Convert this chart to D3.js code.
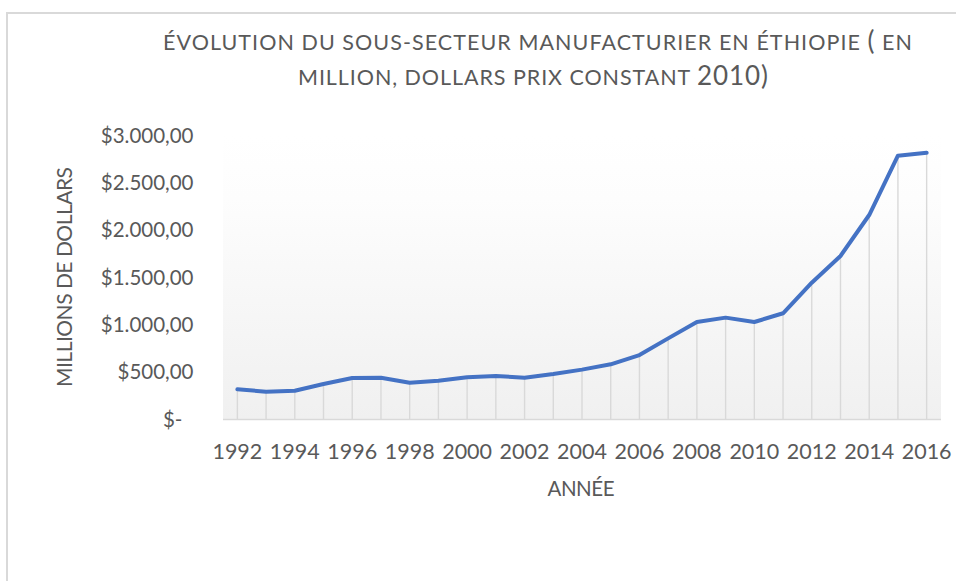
<!DOCTYPE html>
<html>
<head>
<meta charset="utf-8">
<script src="https://cdn.jsdelivr.net/npm/d3@7"></script>
<style>
  html, body { margin: 0; padding: 0; background: #ffffff; }
  svg { display: block; }
  text { font-family: Lato, "Open Sans", sans-serif; fill: #595959; }
</style>
</head>
<body>
<script>
// ---- data ----
const years = [1992, 1993, 1994, 1995, 1996, 1997, 1998, 1999, 2000, 2001, 2002, 2003, 2004,
               2005, 2006, 2007, 2008, 2009, 2010, 2011, 2012, 2013, 2014, 2015, 2016];
const values = [319, 294, 304, 375, 438, 442, 389, 410, 446, 459, 442, 481, 527,
                583, 681, 857, 1030, 1076, 1030, 1122, 1445, 1727, 2160, 2787, 2818];
const xTickLabels = [1992, 1994, 1996, 1998, 2000, 2002, 2004, 2006, 2008, 2010, 2012, 2014, 2016];
const yTickValues = [0, 500, 1000, 1500, 2000, 2500, 3000];
const titleLine1 = "ÉVOLUTION DU SOUS-SECTEUR MANUFACTURIER EN ÉTHIOPIE ";
const titleLine1Big = "(";
const titleLine1End = " EN";
const titleLine2 = "MILLION, DOLLARS PRIX CONSTANT ";
const titleLine2Big = "2010)";
const yAxisTitle = "MILLIONS DE DOLLARS";
const xAxisTitle = "ANNÉE";

// ---- layout ----
const W = 956, H = 581;
const plot = { left: 223, right: 941, top: 135.5, bottom: 419.5 };

const svg = d3.select("body").append("svg").attr("width", W).attr("height", H);

// chart frame
svg.append("rect")
  .attr("x", 7).attr("y", 13).attr("width", 1100).attr("height", 1000)
  .attr("fill", "#ffffff").attr("stroke", "#d9d9d9").attr("stroke-width", 2);

// gradient
const defs = svg.append("defs");
const grad = defs.append("linearGradient").attr("id", "pg")
  .attr("x1", 0).attr("y1", 0).attr("x2", 0).attr("y2", 1);
grad.append("stop").attr("offset", "0%").attr("stop-color", "#ffffff");
grad.append("stop").attr("offset", "22%").attr("stop-color", "#fdfdfd");
grad.append("stop").attr("offset", "100%").attr("stop-color", "#f0f0f0");

svg.append("rect")
  .attr("x", plot.left).attr("y", plot.top)
  .attr("width", plot.right - plot.left).attr("height", plot.bottom - plot.top)
  .attr("fill", "url(#pg)");

// scales
const x = d3.scaleBand().domain(years).range([plot.left, plot.right]).padding(0);
const cx = d => x(d) + x.bandwidth() / 2;
const y = d3.scaleLinear().domain([0, 3000]).range([plot.bottom, plot.top]);

const loc = d3.formatLocale({ decimal: ",", thousands: ".", grouping: [3], currency: ["$", ""] });
const fmt = loc.format("$,.2f");

// drop lines
svg.append("g").selectAll("line").data(years).join("line")
  .attr("x1", d => cx(d)).attr("x2", d => cx(d))
  .attr("y1", (d, i) => y(values[i])).attr("y2", y(0))
  .attr("stroke", "#d9d9d9").attr("stroke-width", 1.4);

// baseline
svg.append("line")
  .attr("x1", plot.left).attr("x2", plot.right)
  .attr("y1", y(0)).attr("y2", y(0))
  .attr("stroke", "#d9d9d9").attr("stroke-width", 1.5);

// line
const line = d3.line().x((d, i) => cx(years[i])).y(d => y(d));
svg.append("path").datum(values)
  .attr("d", line)
  .attr("fill", "none").attr("stroke", "#4472C4")
  .attr("stroke-width", 4).attr("stroke-linejoin", "round").attr("stroke-linecap", "round");

// y axis
const yAxis = svg.append("g").attr("transform", `translate(${plot.left},0)`)
  .call(d3.axisLeft(y).tickValues(yTickValues).tickSize(0).tickPadding(29.5)
    .tickFormat(d => d === 0 ? "$-" : fmt(d)));
yAxis.select(".domain").remove();
yAxis.selectAll("text")
  .attr("font-size", 20.5).attr("fill", "#595959")
  .style("font-family", "Lato, 'Open Sans', sans-serif")
  .attr("dx", d => d === 0 ? -11 : 0);

// x axis
const xAxis = svg.append("g").attr("transform", `translate(0,${plot.bottom})`)
  .call(d3.axisBottom(x).tickValues(xTickLabels).tickSize(0).tickPadding(24.2));
xAxis.select(".domain").remove();
xAxis.selectAll("text")
  .attr("font-size", 21.5).attr("fill", "#595959")
  .style("font-family", "Lato, 'Open Sans', sans-serif");

// title
const t1 = svg.append("text").attr("x", 163).attr("y", 50)
  .attr("font-size", 21.5).attr("textLength", 749).attr("lengthAdjust", "spacing");
t1.append("tspan").text(titleLine1);
t1.append("tspan").attr("font-size", 26).text(titleLine1Big);
t1.append("tspan").text(titleLine1End);

const t2 = svg.append("text").attr("x", 298).attr("y", 85)
  .attr("font-size", 21.5).attr("textLength", 470).attr("lengthAdjust", "spacing");
t2.append("tspan").text(titleLine2);
t2.append("tspan").attr("font-size", 26).text(titleLine2Big);

// axis titles
svg.append("text")
  .attr("transform", `translate(72,${(plot.top + plot.bottom) / 2 - 0.5}) rotate(-90)`)
  .attr("text-anchor", "middle").attr("font-size", 21)
  .attr("textLength", 220).attr("lengthAdjust", "spacing")
  .text(yAxisTitle);

svg.append("text")
  .attr("x", (plot.left + plot.right) / 2 - 1).attr("y", 496)
  .attr("text-anchor", "middle").attr("font-size", 20.5)
  .attr("textLength", 67).attr("lengthAdjust", "spacing")
  .text(xAxisTitle);
</script>
</body>
</html>
